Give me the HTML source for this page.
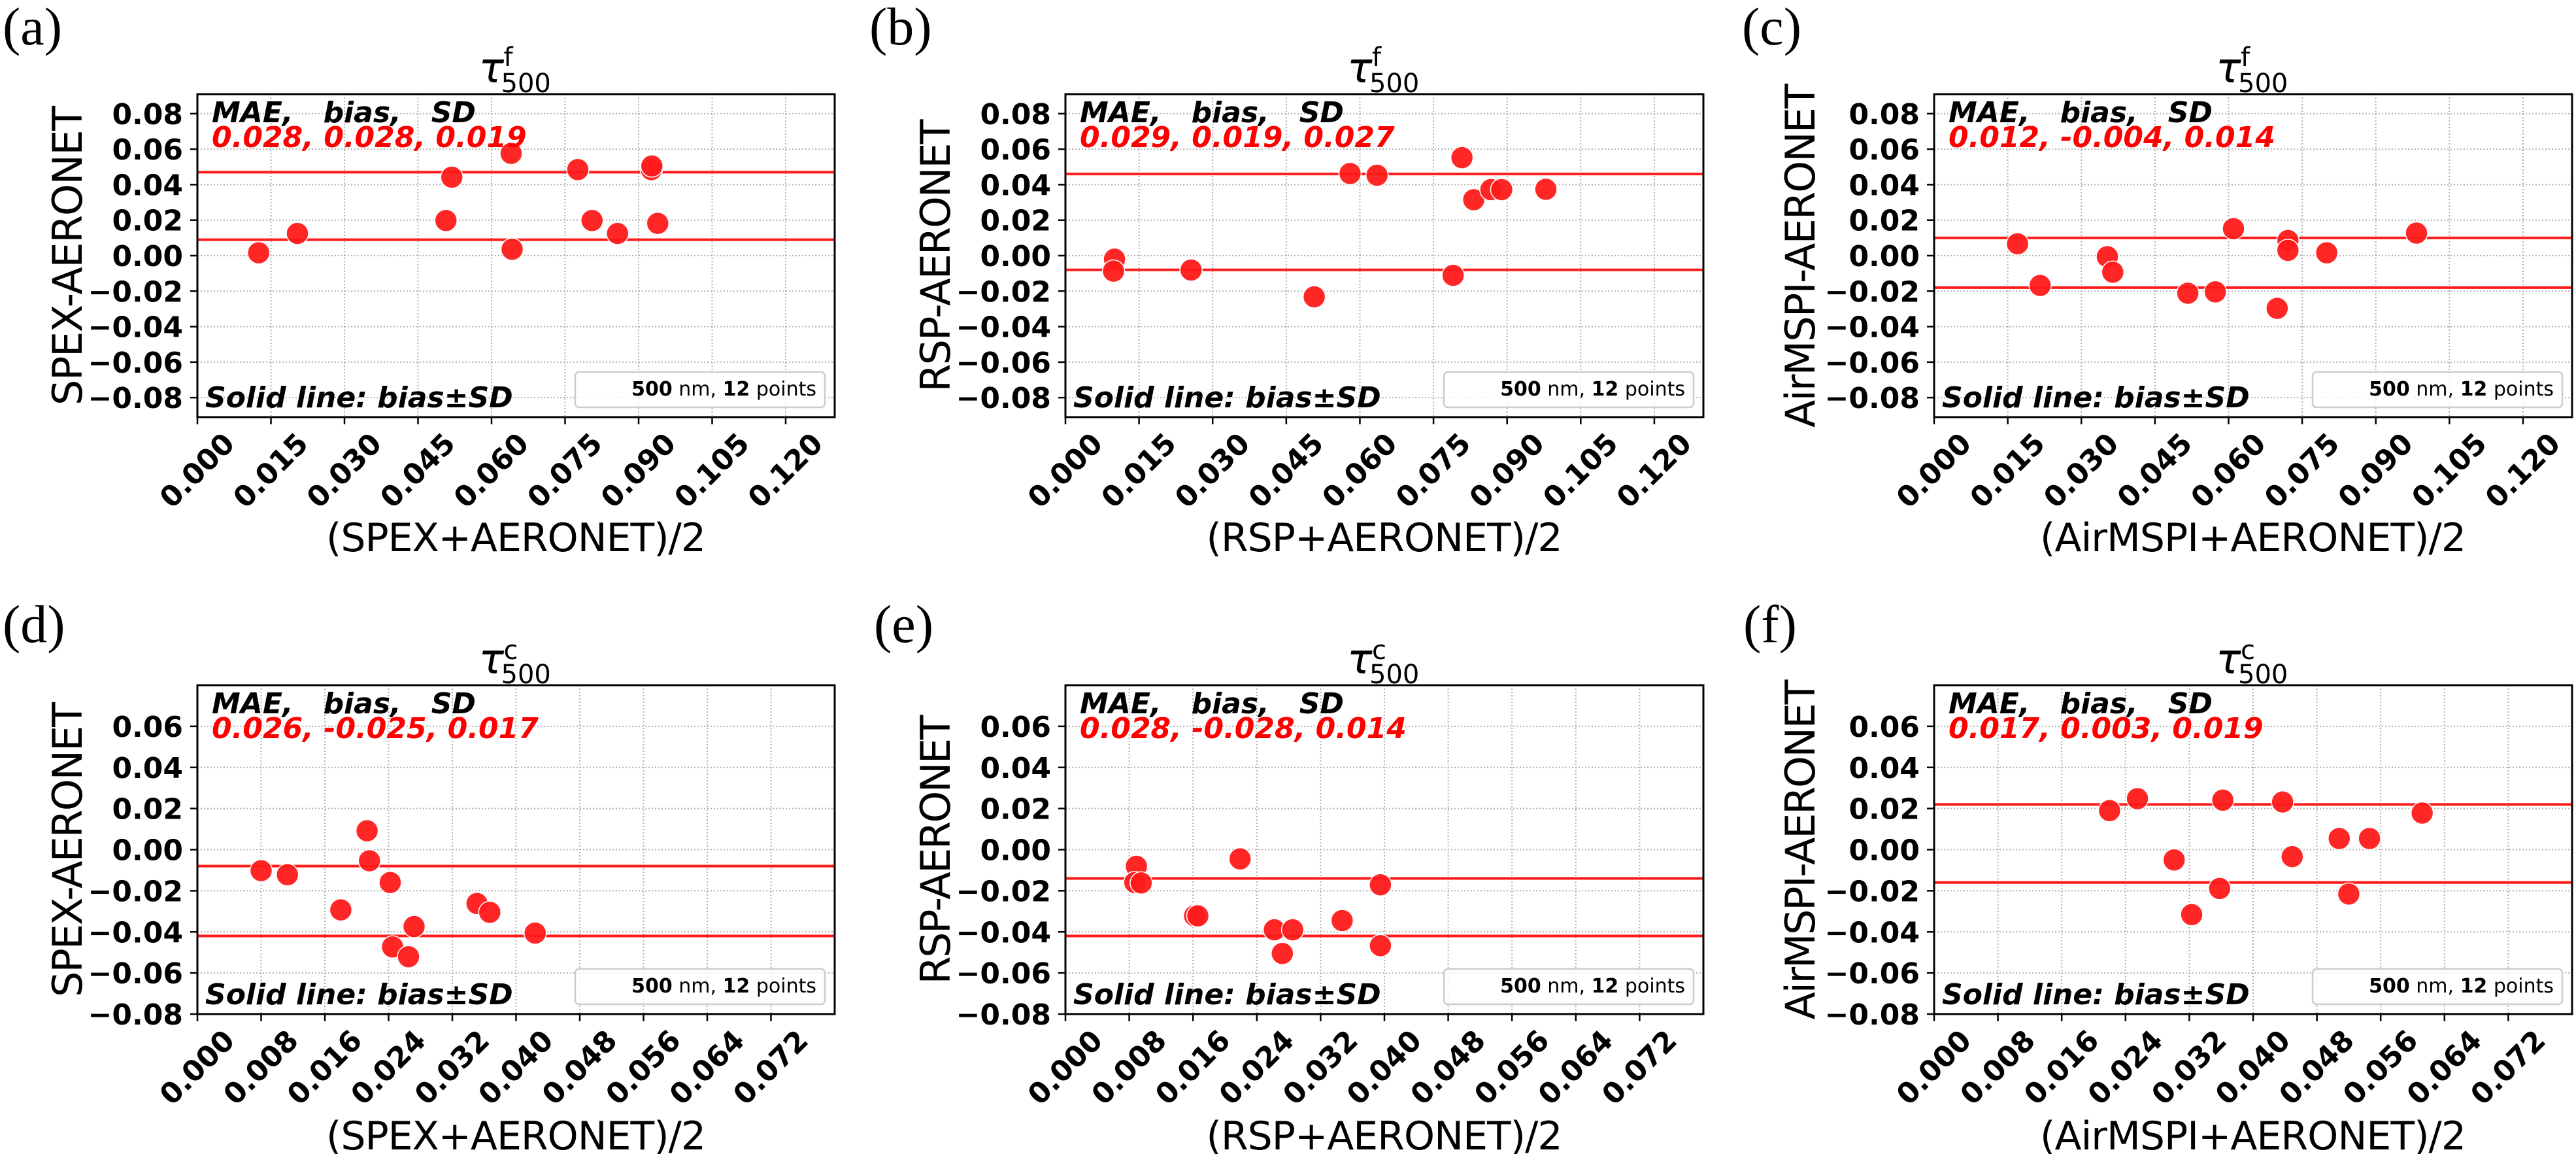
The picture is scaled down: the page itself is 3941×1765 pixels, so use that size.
<!DOCTYPE html>
<html><head><meta charset="utf-8"><style>
html,body{margin:0;padding:0;background:#fff;}
svg{display:block;}
.pre{white-space:pre;}
</style></head><body>
<svg id="fig" xmlns="http://www.w3.org/2000/svg" width="3941" height="1765" viewBox="0 0 3941 1765"></svg>
<script>
// ---- data ----
const xA=[0.0125,0.0204,0.0507,0.0519,0.0640,0.0642,0.0776,0.0805,0.0857,0.0926,0.0927,0.0939];
const yA=[0.0016,0.0125,0.0198,0.0442,0.0576,0.0036,0.0485,0.0198,0.0125,0.0485,0.0505,0.0182];
const xB=[0.0100,0.0098,0.0256,0.0507,0.0580,0.0635,0.0790,0.0808,0.0832,0.0867,0.0889,0.0979];
const yB=[-0.0020,-0.0087,-0.0081,-0.0232,0.0463,0.0453,-0.0111,0.0552,0.0315,0.0372,0.0372,0.0374];
const xC=[0.0170,0.0216,0.0353,0.0364,0.0517,0.0573,0.0610,0.0699,0.0721,0.0721,0.0800,0.0983];
const yC=[0.0067,-0.0168,-0.0006,-0.0093,-0.0212,-0.0204,0.0152,-0.0297,0.0085,0.0030,0.0016,0.0127];
const xD=[0.0080,0.0113,0.0180,0.0213,0.0216,0.0242,0.0245,0.0265,0.0272,0.0351,0.0367,0.0424];
const yD=[-0.0102,-0.0122,-0.0293,0.0092,-0.0054,-0.0160,-0.0473,-0.0521,-0.0374,-0.0262,-0.0305,-0.0406];
const xE=[0.0089,0.0087,0.0095,0.0162,0.0166,0.0219,0.0262,0.0285,0.0272,0.0347,0.0395,0.0395];
const yE=[-0.0081,-0.0160,-0.0162,-0.0322,-0.0322,-0.0045,-0.0390,-0.0390,-0.0505,-0.0345,-0.0171,-0.0467];
const xF=[0.0220,0.0255,0.0301,0.0323,0.0358,0.0362,0.0437,0.0449,0.0508,0.0520,0.0546,0.0612];
const yF=[0.0190,0.0248,-0.0050,-0.0316,-0.0189,0.0241,0.0232,-0.0034,0.0054,-0.0216,0.0054,0.0178];
const biasVals=[0.028,0.019,-0.004,-0.025,-0.028,0.003];
const sdVals=[0.019,0.027,0.014,0.017,0.014,0.019];
const statLabels=["0.028, 0.028, 0.019","0.029, 0.019, 0.027","0.012, -0.004, 0.014","0.026, -0.025, 0.017","0.028, -0.028, 0.014","0.017, 0.003, 0.019"];
const topXTicks=["0.000","0.015","0.030","0.045","0.060","0.075","0.090","0.105","0.120"];
const botXTicks=["0.000","0.008","0.016","0.024","0.032","0.040","0.048","0.056","0.064","0.072"];
const topYTicks=["0.08","0.06","0.04","0.02","0.00","−0.02","−0.04","−0.06","−0.08"];
const botYTicks=["0.06","0.04","0.02","0.00","−0.02","−0.04","−0.06","−0.08"];

const NS="http://www.w3.org/2000/svg";
const svg=document.getElementById('fig');
function mk(tag,attrs,parent){const e=document.createElementNS(NS,tag);for(const k in attrs)e.setAttribute(k,attrs[k]);(parent||svg).appendChild(e);return e;}

const panels=[
 {id:'a',L:302,R:1277,T:144,B:638,xs:xA,ys:yA,xmax:0.130,ymin:-0.091,ymax:0.091,xt:topXTicks,yt:topYTicks,inst:'SPEX',sup:'f',lab:[4,68],ylabX:104,ylabLen:458,xlabLen:581},
 {id:'b',L:1630,R:2606,T:144,B:638,xs:xB,ys:yB,xmax:0.130,ymin:-0.091,ymax:0.091,xt:topXTicks,yt:topYTicks,inst:'RSP',sup:'f',lab:[1330,68],ylabX:1432,ylabLen:417,xlabLen:545},
 {id:'c',L:2959,R:3935,T:144,B:638,xs:xC,ys:yC,xmax:0.130,ymin:-0.091,ymax:0.091,xt:topXTicks,yt:topYTicks,inst:'AirMSPI',sup:'f',lab:[2665,68],ylabX:2755,ylabLen:526,xlabLen:652},
 {id:'d',L:302,R:1277,T:1048,B:1551,xs:xD,ys:yD,xmax:0.080,ymin:-0.08,ymax:0.08,xt:botXTicks,yt:botYTicks,inst:'SPEX',sup:'c',lab:[4,982],ylabX:104,ylabLen:451,xlabLen:581},
 {id:'e',L:1630,R:2606,T:1048,B:1551,xs:xE,ys:yE,xmax:0.080,ymin:-0.08,ymax:0.08,xt:botXTicks,yt:botYTicks,inst:'RSP',sup:'c',lab:[1337,982],ylabX:1432,ylabLen:412,xlabLen:545},
 {id:'f',L:2959,R:3935,T:1048,B:1551,xs:xF,ys:yF,xmax:0.080,ymin:-0.08,ymax:0.08,xt:botXTicks,yt:botYTicks,inst:'AirMSPI',sup:'c',lab:[2667,982],ylabX:2755,ylabLen:520,xlabLen:652}
];

panels.forEach((p,i)=>{
 const g=mk('g',{});
 
 
 const sx=v=>p.L+(v/p.xmax)*(p.R-p.L);
 const sy=v=>p.B-(v-p.ymin)/(p.ymax-p.ymin)*(p.B-p.T);
 p.xt.forEach(t=>{
  const v=parseFloat(t), x=sx(v);
  const gl=mk('line',{x1:x,x2:x,y1:p.T,y2:p.B,stroke:'#b0b0b0','stroke-width':2,'stroke-dasharray':'2,3'},g);
  
  
  mk('line',{x1:x,x2:x,y1:p.B,y2:p.B+11,stroke:'#000','stroke-width':2.5},g);
  const tx=mk('text',{x:x,y:p.B+82,'font-family':'DejaVu Sans, Liberation Sans, sans-serif','font-weight':'bold','font-size':44,'text-anchor':'middle','dominant-baseline':'central',transform:`rotate(-45 ${x} ${p.B+82})`},g);
  tx.textContent=t;
  
  
 });
 p.yt.forEach(t=>{
  const v=parseFloat(t.replace('−','-')), y=sy(v);
  const gl=mk('line',{x1:p.L,x2:p.R,y1:y,y2:y,stroke:'#b0b0b0','stroke-width':2,'stroke-dasharray':'2,3'},g);
  
  
  mk('line',{x1:p.L-11,x2:p.L,y1:y,y2:y,stroke:'#000','stroke-width':2.5},g);
  const ty=mk('text',{x:p.L-22,y:y+16,'font-family':'DejaVu Sans, Liberation Sans, sans-serif','font-weight':'bold','font-size':44,'text-anchor':'end'},g);
  ty.textContent=t;
  
  
 });
 [biasVals[i]+sdVals[i],biasVals[i]-sdVals[i]].forEach(v=>{
  const y=sy(v);
  const bl=mk('line',{x1:p.L,x2:p.R,y1:y,y2:y,stroke:'#ff1a1a','stroke-width':4},g);
  
  
 });
 p.xs.forEach((xv,k)=>{
  const c=mk('circle',{cx:sx(xv),cy:sy(p.ys[k]),r:17,fill:'#ff1a1a','fill-opacity':0.95,stroke:'#fff','stroke-width':1.5},g);
  
  
 });
 const fr=mk('rect',{x:p.L,y:p.T,width:p.R-p.L,height:p.B-p.T,fill:'none',stroke:'#000','stroke-width':3},g);
 
 
 const s1=mk('text',{x:p.L+22,y:p.T+43,class:'pre','font-family':'DejaVu Sans, Liberation Sans, sans-serif','font-weight':'bold','font-style':'italic','font-size':44},g);
 s1.textContent='MAE,   bias,   SD';
 
 
 const s2=mk('text',{x:p.L+22,y:p.T+81,fill:'#ff0000','font-family':'DejaVu Sans, Liberation Sans, sans-serif','font-weight':'bold','font-style':'italic','font-size':44},g);
 s2.textContent=statLabels[i];
 
 
 const s3=mk('text',{x:p.L+12,y:p.B-15,'font-family':'DejaVu Sans, Liberation Sans, sans-serif','font-weight':'bold','font-style':'italic','font-size':44},g);
 s3.textContent='Solid line: bias±SD';
 
 
 const lb=mk('rect',{x:p.R-397,y:p.B-69,width:382,height:54,rx:6,fill:'#fff','fill-opacity':0.8,stroke:'#cccccc','stroke-width':2.5},g);
 
 
 const lt=mk('text',{x:p.R-28,y:p.B-33,'font-family':'DejaVu Sans, Liberation Sans, sans-serif','font-size':30,'text-anchor':'end'},g);
 lt.innerHTML='<tspan font-weight="bold">500</tspan> nm, <tspan font-weight="bold">12</tspan> points';
 
 
 const cx=(p.L+p.R)/2;
 const tt=mk('text',{x:cx-57,y:p.T-18,'font-family':'DejaVu Sans, sans-serif','font-style':'italic','font-size':64},g);
 tt.textContent='τ';
 
 
 const ts=mk('text',{x:cx-19,y:p.T-(p.sup==='f'?43:40),'font-family':'DejaVu Sans, sans-serif','font-size':40},g);
 ts.textContent=p.sup;
 
 
 const tb=mk('text',{x:cx-23,y:p.T-3,'font-family':'DejaVu Sans, sans-serif','font-size':40},g);
 tb.textContent='500';
 
 
 const yc=(p.T+p.B)/2;
 const yl=mk('text',{x:p.ylabX+21,y:yc,'font-family':'DejaVu Sans, sans-serif','font-size':62,'text-anchor':'middle',transform:`rotate(-90 ${p.ylabX+21} ${yc})`},g);
 yl.textContent=p.inst+'-AERONET';
 yl.setAttribute('textLength',p.ylabLen);
 
 
 const xl=mk('text',{x:cx,y:p.B+(p.id<'d'?205:207),'font-family':'DejaVu Sans, sans-serif','font-size':60,'text-anchor':'middle'},g);
 xl.textContent='('+p.inst+'+AERONET)/2';
 xl.setAttribute('textLength',p.xlabLen);
 
 
 const pl=mk('text',{x:p.lab[0],y:p.lab[1],'font-family':'Liberation Serif, serif','font-size':82},g);
 pl.textContent='('+p.id+')';
 
 
});
</script>
</body></html>
